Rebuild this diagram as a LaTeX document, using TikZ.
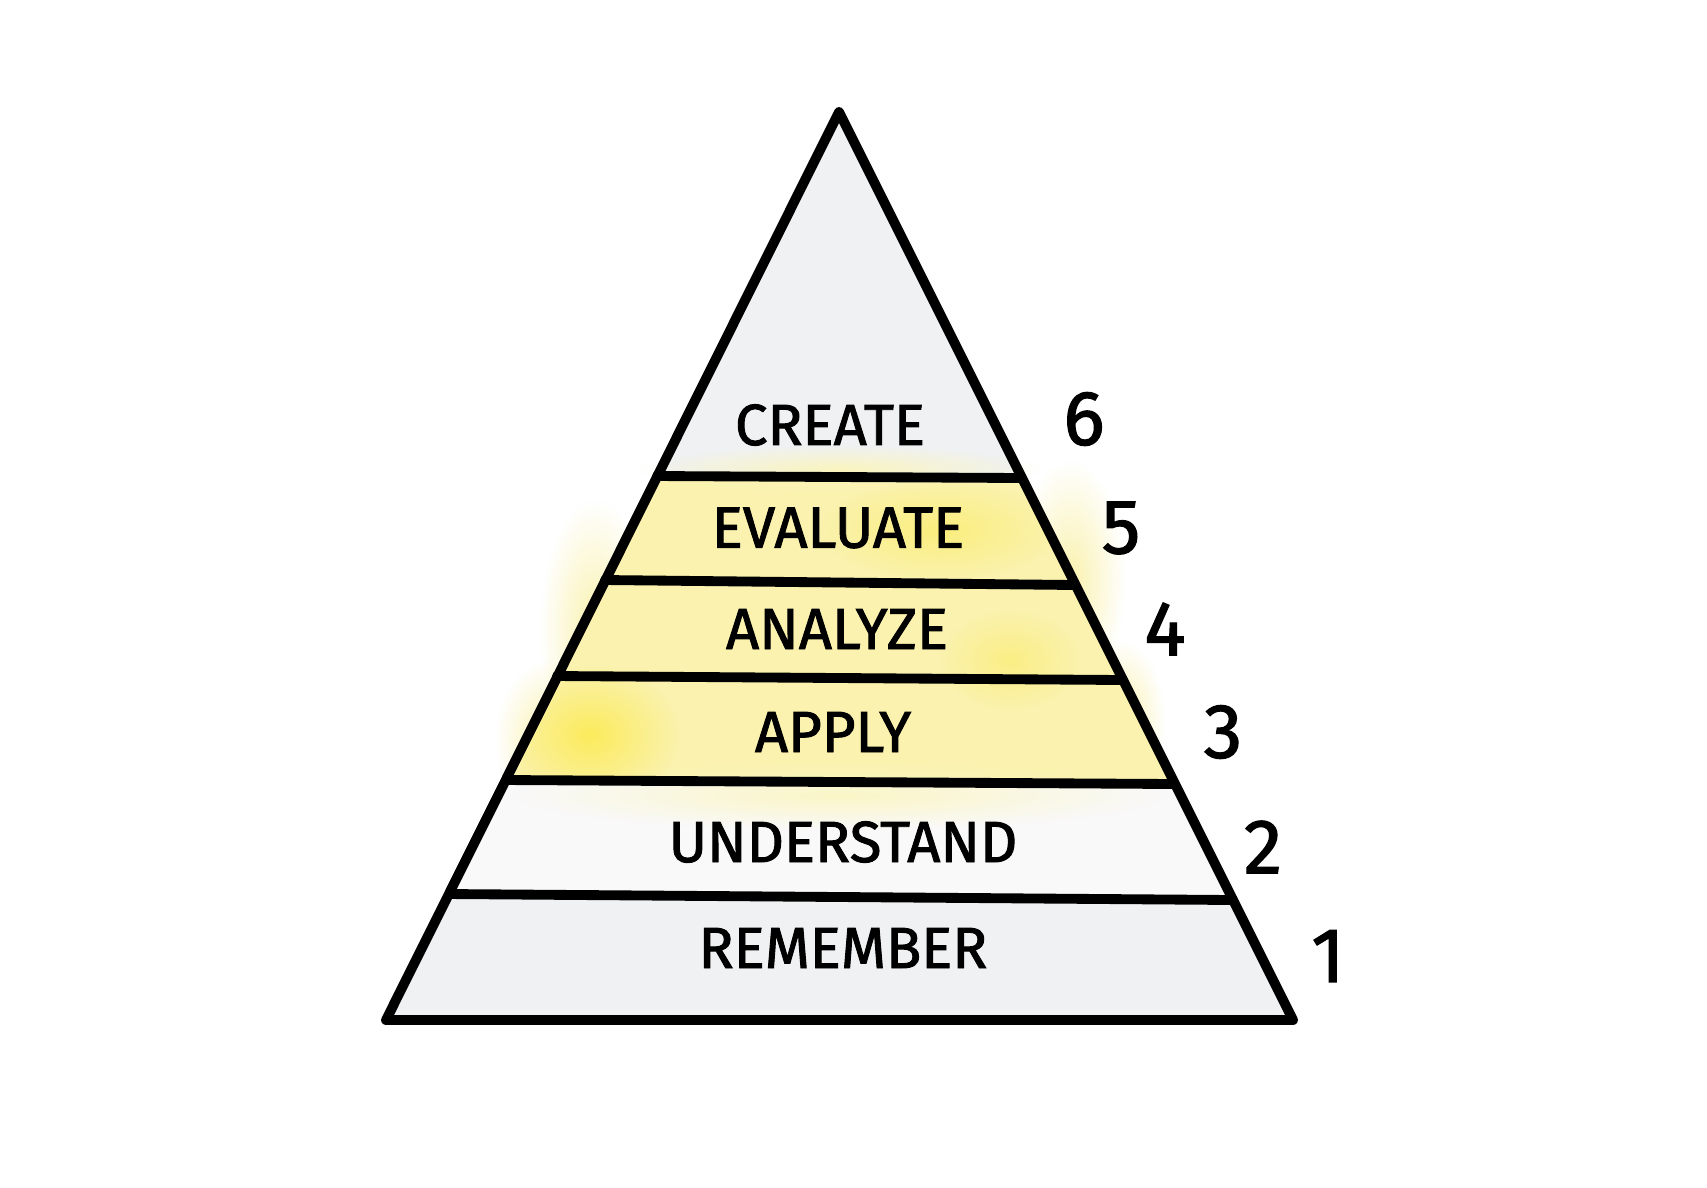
\documentclass[tikz,border=0pt]{standalone}
\usepackage{fontspec}
\setmainfont{Fira Sans}
\newfontfamily\handfont[FakeBold=1.6]{Fira Sans}
\usetikzlibrary{fadings}
\tikzfading[name=softblob, inner color=transparent!0, outer color=transparent!100]
\definecolor{paleg}{HTML}{EFF1F3}
\definecolor{paley}{HTML}{FAF2AE}
\definecolor{brighty}{HTML}{FCEB5C}
\tikzset{
  edge/.style={line width=2.8pt, line join=round, line cap=round},
  level/.style={font=\handfont\fontsize{16.5}{18}\selectfont, inner sep=0pt},
  num/.style={font=\handfont\fontsize{22}{24}\selectfont, inner sep=0pt},
  glow/.style={fill=#1, path fading=softblob}
}
\begin{document}
\begin{tikzpicture}[x=0.1mm,y=-0.1mm]
\useasboundingbox[fill=white] (0,0) rectangle (1707,1187);
% corners
\coordinate (A) at (839,112);
\coordinate (BL) at (386,1020);
\coordinate (BR) at (1293,1020);
% layer line ends
\coordinate (l1) at (657,476);  \coordinate (r1) at (1022,478);
\coordinate (l2) at (605,580);  \coordinate (r2) at (1075,585);
\coordinate (l3) at (557,676);  \coordinate (r3) at (1123,680);
\coordinate (l4) at (506,780);  \coordinate (r4) at (1175,784);
\coordinate (l5) at (449,894);  \coordinate (r5) at (1233,900);
% yellow glow spilling outside the edges
\fill[glow=paley] (595,630) ellipse (55 and 130);
\fill[glow=paley] (550,740) ellipse (55 and 80);
\fill[glow=paley] (1070,580) ellipse (55 and 120);
\fill[glow=paley] (1120,720) ellipse (45 and 80);
% body fills
\fill[paleg] (A) -- (BR) -- (BL) -- cycle;
\fill[white!60!paleg] (l4) -- (r4) -- (r5) -- (l5) -- cycle;
\fill[paley] (l1) -- (r1) -- (r4) -- (l4) -- cycle;
\fill[glow=paley!80!white] (840,470) ellipse (200 and 25);
\fill[glow=paley!70!white] (840,795) ellipse (330 and 35);
\begin{scope}
\clip (l1) -- (r1) -- (r4) -- (l4) -- cycle;
\fill[glow=brighty] (590,735) ellipse (90 and 70);
\fill[glow=brighty!60!paley] (940,530) ellipse (120 and 50);
\fill[glow=brighty!50!paley] (1010,660) ellipse (70 and 50);
\end{scope}
% outline and layer lines
\draw[edge] (A) -- (BR) -- (BL) -- cycle;
\draw[edge] (l1) -- (r1);
\draw[edge] (l2) -- (r2);
\draw[edge] (l3) -- (r3);
\draw[edge] (l4) -- (r4);
\draw[edge] (l5) -- (r5);
% labels
\node[level] (create) at (830,425) {CREATE};
\node[level] (evaluate) at (838,528) {EVALUATE};
\node[level] (analyze) at (837,629) {ANALYZE};
\node[level] (apply) at (833,732) {APPLY};
\node[level] (understand) at (843,842) {UNDERSTAND};
\node[level] (remember) at (843,948) {REMEMBER};
% numbers
\node[num] (n6) at (1084,419) {6};
\node[num] (n5) at (1121,528) {5};
\node[num] (n4) at (1165,629) {4};
\node[num] (n3) at (1223,732) {3};
\node[num] (n2) at (1263,847) {2};
\node[num] (n1) at (1328,956) {1};
\end{tikzpicture}
\end{document}
